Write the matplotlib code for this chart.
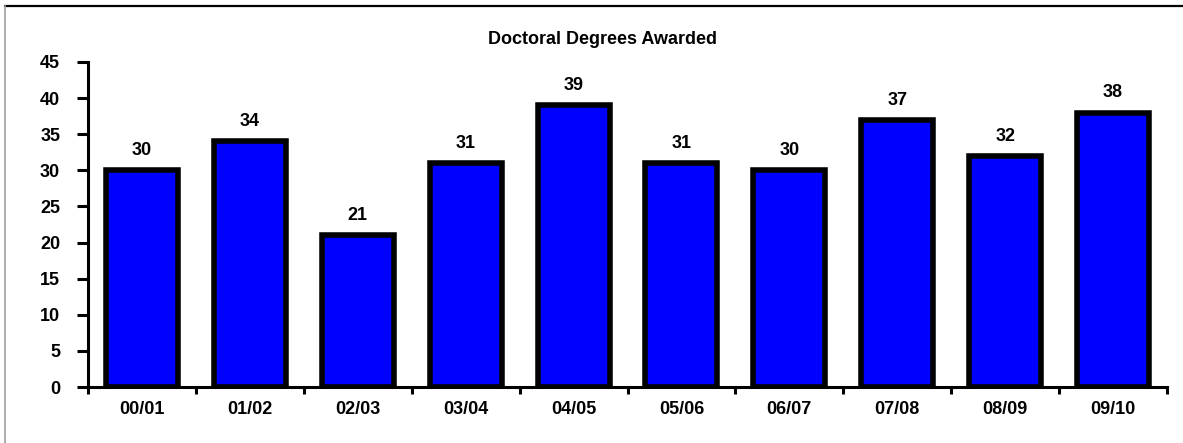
import numpy as np
import matplotlib
matplotlib.use("Agg")
import matplotlib.pyplot as plt
from matplotlib.lines import Line2D

# data
years = ['00/01', '01/02', '02/03', '03/04', '04/05', '05/06', '06/07', '07/08', '08/09', '09/10']
degrees = [30, 34, 21, 31, 39, 31, 30, 37, 32, 38]
yticks = [0, 5, 10, 15, 20, 25, 30, 35, 40, 45]

plt.rcParams['font.family'] = ['Liberation Sans', 'DejaVu Sans']
plt.rcParams['font.weight'] = 'bold'

fig = plt.figure(figsize=(11.83, 4.43), dpi=100)
ax = fig.add_axes([88/1183, 1-387/443, (1167-88)/1183, (387-62)/443])

x = np.arange(len(years))
bars = ax.bar(x, degrees, width=0.667, color='#0000FF', edgecolor='black', linewidth=4)

for xi, v in zip(x, degrees):
    ax.annotate(str(v), (xi, v), xytext=(0, 8), textcoords='offset points',
                ha='center', va='bottom', fontsize=13, fontweight='bold')

ax.set_xlim(-0.5, len(years) - 0.5)
ax.set_ylim(0, 45)
ax.set_yticks(yticks)
ax.set_yticklabels([str(t) for t in yticks], fontsize=13, fontweight='bold')
ax.set_xticks(x)
ax.set_xticklabels(years, fontsize=13, fontweight='bold')
ax.set_xticks(np.arange(len(years) + 1) - 0.5, minor=True)
ax.tick_params(axis='x', which='major', length=0, pad=10)
ax.tick_params(axis='x', which='minor', length=5, width=2.2, direction='out')
ax.tick_params(axis='y', length=8, width=2.2, pad=12)

for s in ['top', 'right']:
    ax.spines[s].set_visible(False)
for s in ['left', 'bottom']:
    ax.spines[s].set_linewidth(2.2)

fig.text(603/1183, 1-40/443, 'Doctoral Degrees Awarded', ha='center', va='center',
         fontsize=13, fontweight='bold')

# chart border (only top and left visible in this crop)
fig.add_artist(Line2D([5/1183, 1], [1-6/443, 1-6/443], transform=fig.transFigure, color='black', lw=1.6))
fig.add_artist(Line2D([5/1183, 5/1183], [0, 1-6/443], transform=fig.transFigure, color='#a0a0a0', lw=1.2))

fig.savefig('out.png', dpi=100)
